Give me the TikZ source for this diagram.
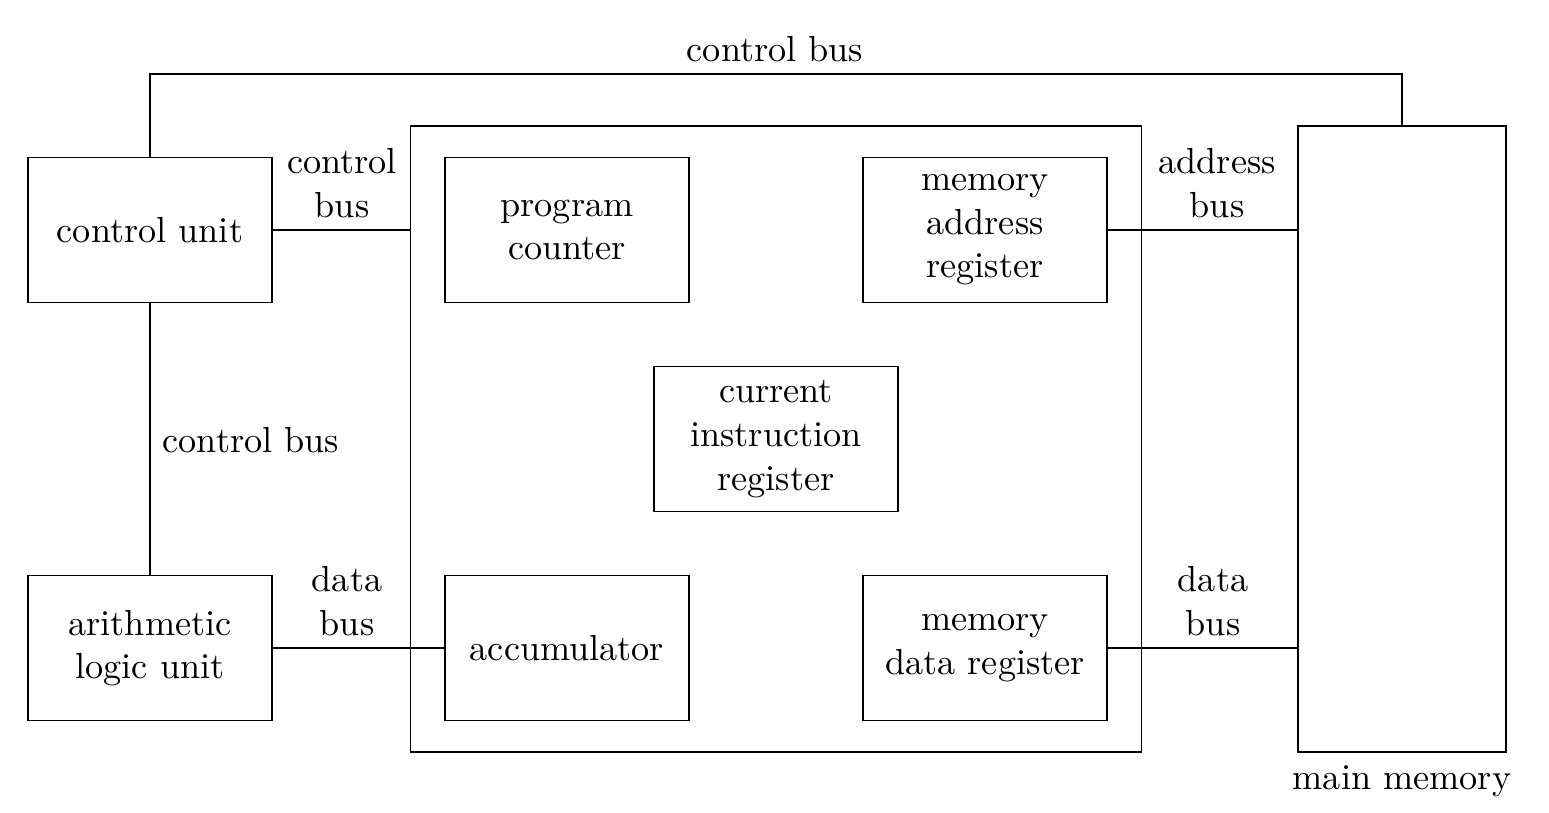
\documentclass[tikz,border=0pt]{standalone}
\usetikzlibrary{positioning}
\tikzset{
  unit/.style     = {draw, rectangle, align=center, inner sep=0pt,
                     minimum width=2.44cm, minimum height=1.45cm},
  frame/.style    = {draw, rectangle, inner sep=0pt},
  buslabel/.style = {align=center, inner sep=1pt}
}

\begin{document}
\begin{tikzpicture}[x=0.01cm, y=-0.01cm, font=\fontsize{10.3}{12.4}\selectfont]
\useasboundingbox (0,0) rectangle (1549,813);

% processor outline and main memory
\node[frame, minimum width=7.30cm, minimum height=6.26cm] (cpu) at (776,439) {};
\node[frame, minimum width=2.08cm, minimum height=6.26cm] (mem) at (1402,439) {};
\node[below=0pt of mem] (memlabel) {main memory};

% units outside and registers inside the processor
\node[unit] (cu)  at (150,230) {control unit};
\node[unit] (alu) at (150,648) {arithmetic\\logic unit};
\node[unit] (pc)  at (567,230) {program\\counter};
\node[unit] (mar) at (985,230) {memory\\address\\register};
\node[unit] (cir) at (776,439) {current\\instruction\\register};
\node[unit] (acc) at (567,648) {accumulator};
\node[unit] (mdr) at (985,648) {memory\\data register};

% buses
\coordinate (topbus) at (775,74);
\draw (cu.north) |- (topbus) -| (mem.north);
\draw (cu.east) -- (cu.east -| cpu.west);
\draw (cu.south) -- (alu.north);
\draw (alu.east) -- (acc.west);
\draw (mar.east) -- (mar.east -| mem.west);
\draw (mdr.east) -- (mdr.east -| mem.west);

% bus labels
\node[above=0pt of topbus] (toplabel) {control bus};
\node[buslabel] (cbus)  at (342,183) {control\\bus};
\node[buslabel] (sbus)  at (251,440) {control bus};
\node[buslabel] (dbus1) at (347,601) {data\\bus};
\node[buslabel] (abus)  at (1217,183) {address\\bus};
\node[buslabel] (dbus2) at (1213,601) {data\\bus};

\end{tikzpicture}
\end{document}
